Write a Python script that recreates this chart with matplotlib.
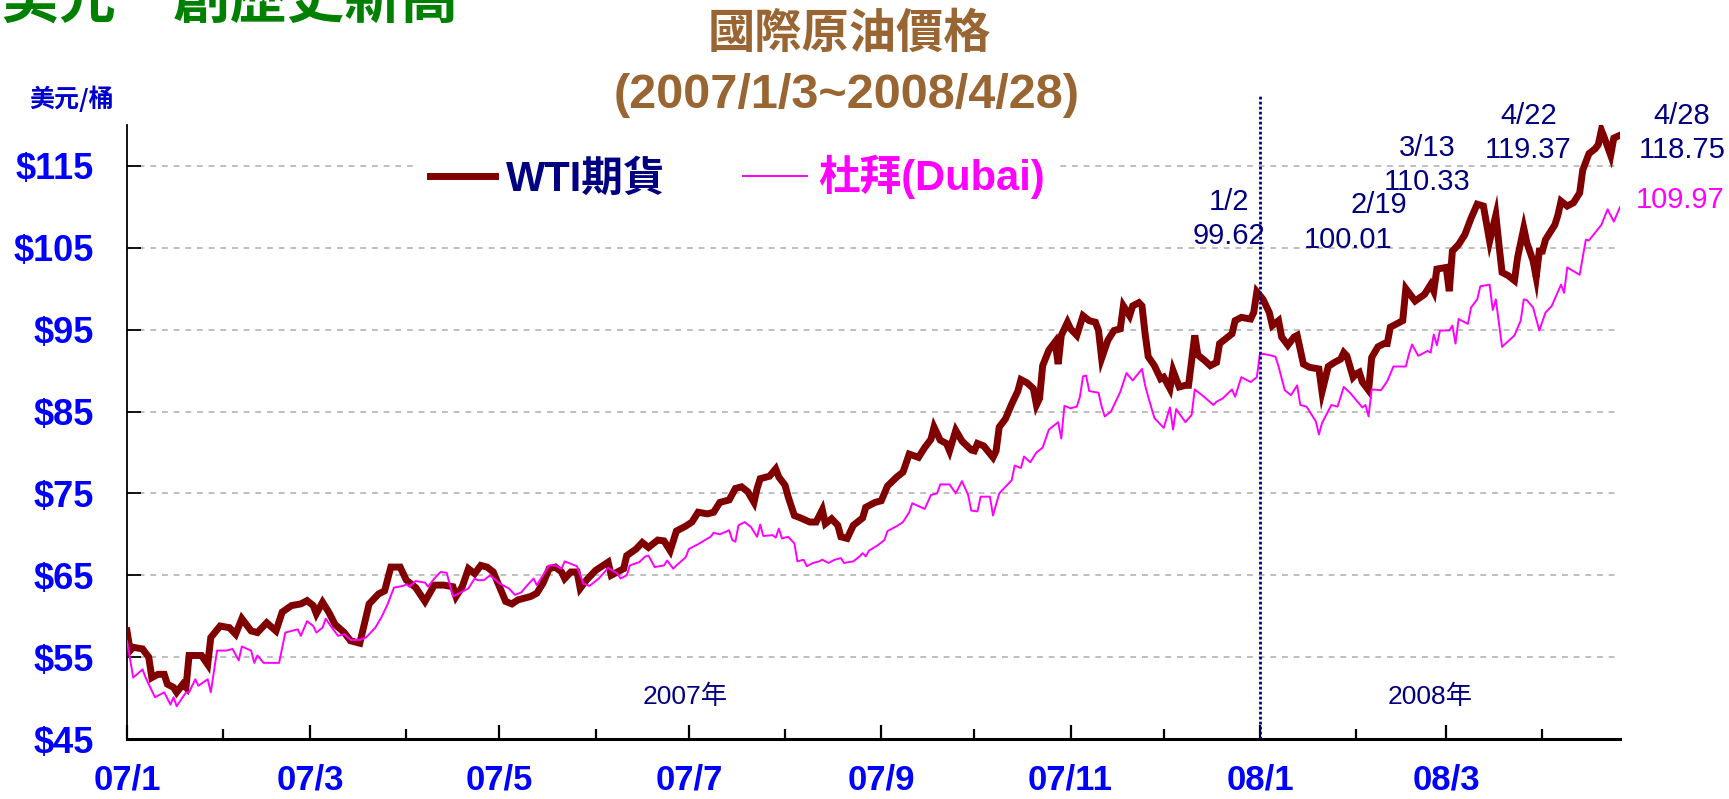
import matplotlib
matplotlib.use("Agg")
import matplotlib.pyplot as plt
from matplotlib import font_manager
import pandas as pd

# WTI futures, daily closes (USD / barrel)
wti_dates = [
    "2007-01-03", "2007-01-04", "2007-01-05", "2007-01-08", "2007-01-10", "2007-01-11", "2007-01-13", "2007-01-15", "2007-01-16",
    "2007-01-18", "2007-01-19", "2007-01-21", "2007-01-22", "2007-01-23", "2007-01-27", "2007-01-29", "2007-01-30",
    "2007-02-02", "2007-02-05", "2007-02-07", "2007-02-09", "2007-02-12", "2007-02-14", "2007-02-17", "2007-02-20", "2007-02-22",
    "2007-02-25", "2007-02-28",
    "2007-03-02", "2007-03-04", "2007-03-05", "2007-03-07", "2007-03-09", "2007-03-11", "2007-03-14", "2007-03-16", "2007-03-19",
    "2007-03-22", "2007-03-25", "2007-03-27", "2007-03-29",
    "2007-04-01", "2007-04-03", "2007-04-06", "2007-04-09", "2007-04-12", "2007-04-15", "2007-04-18", "2007-04-19", "2007-04-21",
    "2007-04-23", "2007-04-25", "2007-04-27", "2007-04-29",
    "2007-05-01", "2007-05-03", "2007-05-05", "2007-05-07", "2007-05-09", "2007-05-11", "2007-05-13", "2007-05-15", "2007-05-17",
    "2007-05-19", "2007-05-21", "2007-05-23", "2007-05-24", "2007-05-26", "2007-05-28", "2007-05-29", "2007-05-31",
    "2007-06-03", "2007-06-05", "2007-06-07", "2007-06-08", "2007-06-10", "2007-06-12", "2007-06-13", "2007-06-16", "2007-06-18",
    "2007-06-20", "2007-06-23", "2007-06-25", "2007-06-27", "2007-06-29",
    "2007-07-02", "2007-07-04", "2007-07-06", "2007-07-09", "2007-07-11", "2007-07-13", "2007-07-16", "2007-07-18", "2007-07-20",
    "2007-07-22", "2007-07-24", "2007-07-25", "2007-07-26", "2007-07-29", "2007-07-31",
    "2007-08-01", "2007-08-03", "2007-08-04", "2007-08-06", "2007-08-08", "2007-08-11", "2007-08-13", "2007-08-15", "2007-08-16",
    "2007-08-18", "2007-08-20", "2007-08-21", "2007-08-23", "2007-08-25", "2007-08-28", "2007-08-29",
    "2007-09-01", "2007-09-03", "2007-09-05", "2007-09-08", "2007-09-10", "2007-09-12", "2007-09-15", "2007-09-17", "2007-09-19",
    "2007-09-20", "2007-09-22", "2007-09-24", "2007-09-25", "2007-09-27", "2007-09-29",
    "2007-10-02", "2007-10-03", "2007-10-04", "2007-10-06", "2007-10-09", "2007-10-10", "2007-10-11", "2007-10-13", "2007-10-15",
    "2007-10-17", "2007-10-18", "2007-10-20", "2007-10-22", "2007-10-23", "2007-10-24", "2007-10-25", "2007-10-27", "2007-10-29",
    "2007-10-30", "2007-10-31",
    "2007-11-02", "2007-11-03", "2007-11-05", "2007-11-07", "2007-11-09", "2007-11-11", "2007-11-12", "2007-11-13", "2007-11-15",
    "2007-11-17", "2007-11-19", "2007-11-20", "2007-11-22", "2007-11-23", "2007-11-25", "2007-11-26", "2007-11-27", "2007-11-28",
    "2007-11-30",
    "2007-12-02", "2007-12-03", "2007-12-05", "2007-12-06", "2007-12-08", "2007-12-10", "2007-12-11", "2007-12-13", "2007-12-14",
    "2007-12-16", "2007-12-18", "2007-12-20", "2007-12-21", "2007-12-23", "2007-12-25", "2007-12-26", "2007-12-28", "2007-12-31",
    "2008-01-01", "2008-01-02", "2008-01-04", "2008-01-06", "2008-01-07", "2008-01-09", "2008-01-10", "2008-01-12", "2008-01-14",
    "2008-01-15", "2008-01-17", "2008-01-19", "2008-01-22", "2008-01-23", "2008-01-25", "2008-01-27", "2008-01-29", "2008-01-30",
    "2008-01-31",
    "2008-02-02", "2008-02-03", "2008-02-04", "2008-02-05", "2008-02-07", "2008-02-08", "2008-02-10", "2008-02-12", "2008-02-13",
    "2008-02-14", "2008-02-16", "2008-02-18", "2008-02-19", "2008-02-22", "2008-02-25", "2008-02-27", "2008-02-28", "2008-02-29",
    "2008-03-03", "2008-03-04", "2008-03-05", "2008-03-07", "2008-03-09", "2008-03-11", "2008-03-13", "2008-03-15", "2008-03-17",
    "2008-03-19", "2008-03-20", "2008-03-21", "2008-03-23", "2008-03-25", "2008-03-26", "2008-03-28", "2008-03-29", "2008-03-31",
    "2008-04-01", "2008-04-02", "2008-04-03", "2008-04-04", "2008-04-07", "2008-04-08", "2008-04-09", "2008-04-11", "2008-04-13",
    "2008-04-15", "2008-04-16", "2008-04-18", "2008-04-20", "2008-04-21", "2008-04-22", "2008-04-23", "2008-04-25", "2008-04-26",
    "2008-04-28",
]
wti_price = [
    58.2, 55.8, 56.2, 56.0, 55.0, 52.5, 52.9, 52.9, 51.7, 51.3, 50.7, 51.7, 51.3, 55.2, 55.2, 54.1, 57.4,
    58.8, 58.6, 57.8, 59.7, 58.2, 58.0, 59.2, 58.2, 60.5, 61.3, 61.5,
    61.9, 61.3, 60.3, 61.7, 60.5, 59.0, 58.0, 57.0, 56.7, 61.5, 62.7, 63.1, 66.0,
    66.0, 64.4, 63.5, 61.8, 63.8, 63.8, 63.6, 62.4, 63.6, 65.8, 65.2, 66.2, 66.0,
    65.4, 63.6, 61.8, 61.5, 62.0, 62.2, 62.4, 62.8, 64.0, 65.8, 66.0, 65.4, 64.6, 65.4, 65.4, 63.4, 64.4,
    65.6, 66.1, 66.6, 65.0, 65.4, 65.8, 67.4, 68.2, 69.0, 68.4, 69.3, 69.2, 68.0, 70.4,
    71.0, 71.5, 72.7, 72.5, 72.7, 73.9, 74.2, 75.6, 75.8, 75.2, 73.9, 75.6, 76.8, 77.1, 78.0,
    77.0, 76.0, 74.6, 72.3, 72.0, 71.5, 71.5, 73.0, 71.3, 71.9, 71.1, 69.7, 69.5, 71.1, 72.0, 73.3,
    73.9, 74.1, 75.9, 77.0, 77.6, 79.8, 79.4, 80.6, 81.6, 83.1, 81.5, 81.1, 80.2, 82.7, 81.4,
    80.3, 80.2, 81.1, 80.8, 79.4, 80.2, 83.1, 84.1, 85.9, 87.5, 88.9, 88.5, 87.8, 85.8, 86.6, 90.6, 92.5, 93.5, 90.8, 94.3,
    95.9, 95.1, 94.3, 96.7, 96.1, 95.9, 94.9, 91.5, 93.7, 94.9, 95.1, 97.9, 96.7, 97.9, 98.3, 97.9, 94.5, 91.7, 90.6,
    89.0, 89.2, 87.8, 90.0, 88.0, 88.2, 88.2, 94.3, 91.9, 91.3, 90.6, 91.0, 93.3, 93.9, 94.5, 96.1, 96.5, 96.3,
    97.1, 99.62, 98.7, 97.1, 95.5, 96.1, 94.1, 93.1, 94.1, 94.3, 90.8, 90.4, 90.2, 87.4, 90.5, 91.0, 91.4, 92.2, 91.8,
    89.2, 89.6, 89.8, 88.6, 87.6, 91.6, 92.9, 93.3, 93.3, 95.3, 95.7, 96.1, 100.01, 98.5, 99.3, 100.5, 99.7, 102.4,
    102.6, 99.7, 104.6, 105.4, 106.6, 108.6, 110.33, 110.1, 105.8, 109.0, 105.4, 102.0, 101.6, 101.0, 103.8, 107.4, 105.6, 103.4,
    101.4, 104.6, 104.6, 106.0, 107.8, 109.0, 110.7, 110.1, 110.5, 111.7, 114.5, 116.5, 117.1, 117.6, 119.37, 118.4, 116.3, 118.4,
    118.75,
]

# Dubai spot
dubai_dates = [
    "2007-01-03", "2007-01-05", "2007-01-08", "2007-01-09", "2007-01-12", "2007-01-15", "2007-01-17", "2007-01-18", "2007-01-19",
    "2007-01-22", "2007-01-23", "2007-01-25", "2007-01-26", "2007-01-29", "2007-01-30",
    "2007-02-01", "2007-02-04", "2007-02-06", "2007-02-08", "2007-02-09", "2007-02-12", "2007-02-13", "2007-02-14", "2007-02-16",
    "2007-02-21", "2007-02-23", "2007-02-27", "2007-02-28",
    "2007-03-02", "2007-03-04", "2007-03-05", "2007-03-07", "2007-03-08", "2007-03-10", "2007-03-12", "2007-03-14", "2007-03-16",
    "2007-03-19", "2007-03-21", "2007-03-24", "2007-03-26", "2007-03-28", "2007-03-30",
    "2007-04-02", "2007-04-03", "2007-04-04", "2007-04-06", "2007-04-09", "2007-04-10", "2007-04-12", "2007-04-14", "2007-04-16",
    "2007-04-18", "2007-04-21", "2007-04-23", "2007-04-25", "2007-04-26", "2007-04-28", "2007-04-30",
    "2007-05-03", "2007-05-06", "2007-05-08", "2007-05-10", "2007-05-12", "2007-05-14", "2007-05-15", "2007-05-19", "2007-05-21",
    "2007-05-23", "2007-05-24", "2007-05-28", "2007-05-30",
    "2007-06-01", "2007-06-04", "2007-06-07", "2007-06-10", "2007-06-11", "2007-06-13", "2007-06-14", "2007-06-17", "2007-06-19",
    "2007-06-20", "2007-06-22", "2007-06-25", "2007-06-26", "2007-06-28", "2007-06-29",
    "2007-07-02", "2007-07-03", "2007-07-06", "2007-07-10", "2007-07-11", "2007-07-13", "2007-07-16", "2007-07-17", "2007-07-18",
    "2007-07-19", "2007-07-21", "2007-07-23", "2007-07-25", "2007-07-26", "2007-07-27", "2007-07-30", "2007-07-31",
    "2007-08-01", "2007-08-02", "2007-08-04", "2007-08-06", "2007-08-07", "2007-08-09", "2007-08-10", "2007-08-12", "2007-08-14",
    "2007-08-15", "2007-08-17", "2007-08-19", "2007-08-21", "2007-08-22", "2007-08-25", "2007-08-27", "2007-08-28", "2007-08-29",
    "2007-08-30",
    "2007-09-02", "2007-09-04", "2007-09-05", "2007-09-08", "2007-09-10", "2007-09-12", "2007-09-13", "2007-09-17", "2007-09-19",
    "2007-09-21", "2007-09-22", "2007-09-25", "2007-09-27", "2007-09-29",
    "2007-10-01", "2007-10-02", "2007-10-04", "2007-10-05", "2007-10-08", "2007-10-09", "2007-10-11", "2007-10-15", "2007-10-16",
    "2007-10-18", "2007-10-19", "2007-10-21", "2007-10-23", "2007-10-25", "2007-10-27", "2007-10-30", "2007-10-31",
    "2007-11-01", "2007-11-03", "2007-11-05", "2007-11-06", "2007-11-07", "2007-11-08", "2007-11-09", "2007-11-12", "2007-11-13",
    "2007-11-14", "2007-11-16", "2007-11-19", "2007-11-21", "2007-11-23", "2007-11-26", "2007-11-27", "2007-11-28", "2007-11-30",
    "2007-12-03", "2007-12-05", "2007-12-06", "2007-12-07", "2007-12-10", "2007-12-12", "2007-12-13", "2007-12-16", "2007-12-19",
    "2007-12-20", "2007-12-22", "2007-12-25", "2007-12-26", "2007-12-28", "2007-12-31",
    "2008-01-02", "2008-01-03", "2008-01-06", "2008-01-08", "2008-01-09", "2008-01-11", "2008-01-13", "2008-01-15", "2008-01-16",
    "2008-01-18", "2008-01-19", "2008-01-21", "2008-01-22", "2008-01-23", "2008-01-26", "2008-01-28", "2008-01-30",
    "2008-02-01", "2008-02-03", "2008-02-05", "2008-02-06", "2008-02-07", "2008-02-08", "2008-02-11", "2008-02-13", "2008-02-15",
    "2008-02-19", "2008-02-20", "2008-02-21", "2008-02-23", "2008-02-26", "2008-02-27", "2008-02-28", "2008-02-29",
    "2008-03-01", "2008-03-04", "2008-03-05", "2008-03-06", "2008-03-07", "2008-03-10", "2008-03-11", "2008-03-13", "2008-03-14",
    "2008-03-17", "2008-03-18", "2008-03-19", "2008-03-21", "2008-03-25", "2008-03-27", "2008-03-28", "2008-03-29", "2008-03-31",
    "2008-04-02", "2008-04-04", "2008-04-06", "2008-04-09", "2008-04-10", "2008-04-11", "2008-04-15", "2008-04-17", "2008-04-18",
    "2008-04-22", "2008-04-24", "2008-04-26", "2008-04-28",
]
dubai_price = [
    57.0, 52.5, 53.5, 52.5, 50.1, 50.7, 49.2, 50.1, 49.0, 50.7, 50.7, 52.3, 51.5, 52.3, 50.7,
    55.8, 55.8, 56.0, 54.6, 56.3, 55.8, 54.3, 55.2, 54.3, 54.3, 58.0, 58.4, 57.6,
    59.4, 58.8, 58.0, 58.6, 59.7, 58.6, 57.6, 57.8, 57.1, 57.1, 57.4, 58.6, 59.9, 61.5, 63.5,
    63.7, 63.9, 63.6, 64.3, 64.1, 63.6, 64.6, 65.4, 65.3, 62.4, 63.0, 63.4, 64.6, 64.4, 64.4, 65.0,
    64.0, 63.4, 62.6, 62.9, 63.8, 64.6, 63.8, 66.2, 66.2, 65.8, 66.7, 66.1, 64.0,
    63.7, 64.6, 65.9, 65.2, 64.6, 65.0, 66.2, 66.6, 67.3, 67.4, 66.0, 66.2, 66.8, 65.8, 66.2,
    67.2, 68.2, 68.8, 69.7, 70.2, 70.0, 70.5, 69.3, 69.1, 71.1, 71.5, 70.9, 69.7, 71.2, 69.8, 69.9, 69.6,
    70.7, 69.5, 69.7, 68.9, 66.7, 66.9, 66.1, 66.5, 66.7, 66.9, 66.5, 66.9, 67.1, 66.5, 66.7, 67.3, 67.7, 67.3, 68.0,
    68.7, 69.3, 70.4, 71.0, 71.5, 72.7, 73.8, 73.1, 74.8, 75.0, 76.1, 76.1, 75.0, 76.5,
    74.8, 72.9, 72.8, 74.6, 74.6, 72.3, 75.0, 76.6, 78.4, 78.1, 79.5, 78.8, 80.0, 80.6, 82.8, 83.7, 81.7,
    85.7, 85.4, 85.6, 86.8, 89.3, 89.4, 87.5, 87.3, 85.6, 84.4, 85.0, 87.4, 89.7, 88.8, 90.2, 88.2, 86.8, 84.2,
    83.0, 85.5, 82.8, 85.3, 83.7, 84.6, 87.7, 86.8, 85.8, 86.2, 86.6, 87.7, 86.8, 89.2, 88.6,
    89.2, 92.1, 91.9, 91.7, 90.5, 87.6, 87.0, 88.2, 85.8, 85.6, 85.0, 83.8, 82.2, 83.6, 85.8, 85.6, 88.0,
    87.3, 86.4, 85.5, 85.8, 84.4, 87.7, 87.6, 88.7, 90.5, 90.5, 92.0, 93.2, 91.8, 92.4, 92.2, 94.4, 93.1,
    94.9, 94.9, 95.5, 93.3, 96.3, 95.7, 97.7, 98.7, 100.3, 100.5, 97.4, 98.7, 92.9, 94.3, 96.1, 98.7, 98.6, 97.7,
    94.9, 97.1, 97.9, 100.5, 99.5, 102.6, 101.7, 106.0, 105.9, 107.8, 109.7, 108.2, 109.97,
]

# labelled WTI points
note_dates = ["2008-01-02", "2008-02-19", "2008-03-13", "2008-04-22", "2008-04-28"]
note_prices = [99.62, 100.01, 110.33, 119.37, 118.75]
dubai_last_date = "2008-04-28"
dubai_last = 109.97

y_ticks = [45, 55, 65, 75, 85, 95, 105, 115]
year_labels = ["2007年", "2008年"]
year_split = "2008-01-03"

NAVY = "#000080"
BLUE = "#0000FF"
WTI_C = "#800000"
DUBAI_C = "#FF00FF"

installed = {f.name for f in font_manager.fontManager.ttflist}
NARROW = "Liberation Sans Narrow" in installed
latin_n = "Liberation Sans Narrow" if NARROW else "Liberation Sans"
cjk = "Noto Sans CJK TC"
plt.rcParams["font.family"] = ["Liberation Sans", cjk, "DejaVu Sans"]

fig = plt.figure(figsize=(17.29, 7.99), dpi=100)
ax = fig.add_axes([127 / 1729, 60 / 799, 1493 / 1729, 614 / 799])

wti_line, = ax.plot(pd.to_datetime(wti_dates), wti_price, color=WTI_C, lw=5.0,
                    solid_joinstyle="miter", zorder=3)
dubai_line, = ax.plot(pd.to_datetime(dubai_dates), dubai_price, color=DUBAI_C, lw=1.4, zorder=4)

ax.set_xlim(pd.Timestamp("2007-01-03"), pd.Timestamp("2008-04-28"))
ax.set_ylim(45, 120)

# month ticks fall on the 3rd (axis starts 2007/1/3), labels every 2 months
months = pd.date_range("2007-01-01", "2008-04-01", freq="MS") + pd.Timedelta(days=2)
major = months[::2]
ax.set_xticks(major)
ax.set_xticklabels([f"{d:%y}/{d.month}" for d in major])
ax.set_xticks(months[1::2], minor=True)

ax.set_yticks(y_ticks)
ax.set_yticklabels([f"\\${v}" for v in y_ticks])

xsize, ysize = (29, 29) if NARROW else (25, 26)
ax.tick_params(axis="x", which="major", direction="in", length=10, width=1.6, pad=18,
               labelsize=xsize, labelcolor=BLUE)
ax.tick_params(axis="x", which="minor", direction="in", length=7, width=1.6)
ax.tick_params(axis="y", direction="in", length=10, width=1.3, pad=24,
               labelsize=ysize, labelcolor=BLUE)
for lbl in ax.get_xticklabels() + ax.get_yticklabels():
    lbl.set_fontweight("bold")
    lbl.set_family([latin_n, cjk])

ax.yaxis.grid(True, color="#BEBEBE", linestyle=(0, (3, 3)), linewidth=1.4)
ax.set_axisbelow(True)
for s in ["top", "right"]:
    ax.spines[s].set_visible(False)
ax.spines["left"].set_linewidth(1.3)
ax.spines["bottom"].set_linewidth(2.2)

# dotted separator at the new year, poking above the plot
ax.axvline(pd.Timestamp(year_split), ymin=0, ymax=1.05, color=NAVY, lw=2.0,
           linestyle=(0, (1, 0.8)), clip_on=False, zorder=5)

ax.text(0.374, 0.068, year_labels[0], transform=ax.transAxes, ha="center", va="center",
        fontsize=19, color=NAVY, family=[latin_n, cjk])
ax.text(0.873, 0.068, year_labels[1], transform=ax.transAxes, ha="center", va="center",
        fontsize=19, color=NAVY, family=[latin_n, cjk])

leg = ax.legend([wti_line, dubai_line], ["WTI期貨", "杜拜(Dubai)"], loc="center",
                bbox_to_anchor=(0.409, 0.915), ncol=2, frameon=True, fancybox=False,
                edgecolor="none", facecolor="white", framealpha=1,
                prop={"weight": "bold", "size": 30, "family": ["Liberation Sans", cjk]},
                handlelength=1.55, handletextpad=0.27, columnspacing=1.85, borderpad=0.35)
for t, c in zip(leg.get_texts(), [NAVY, DUBAI_C]):
    t.set_color(c)

# callouts: text centre offset from the point, in pixels
offsets = [(-28, 73), None, (-50, 39), (-73, -3), (62, 2)]
for d, p, off in zip(note_dates, note_prices, offsets):
    ts = pd.Timestamp(d)
    if off is None:
        ax.annotate(f"{ts.month}/{ts.day}", (ts, p), xytext=(-27, 84), textcoords="offset pixels",
                    ha="center", va="center", fontsize=21, color=NAVY, annotation_clip=False)
        ax.annotate(f"{p:.2f}", (ts, p), xytext=(-58, 49), textcoords="offset pixels",
                    ha="center", va="center", fontsize=21, color=NAVY, annotation_clip=False)
        continue
    ax.annotate(f"{ts.month}/{ts.day}\n{p:.2f}", (ts, p), xytext=off, textcoords="offset pixels",
                ha="center", va="center", fontsize=21, color=NAVY, linespacing=1.25,
                annotation_clip=False)
ax.annotate(f"{dubai_last:.2f}", (pd.Timestamp(dubai_last_date), dubai_last), xytext=(60, 7),
            textcoords="offset pixels", ha="center", va="center", fontsize=21, color=DUBAI_C,
            annotation_clip=False)

# titles / slide residue
fig.text(849 / 1729, 1 - 34 / 799, "國際原油價格", ha="center", va="center", fontsize=34,
         fontweight="bold", color="#996633", family=cjk)
fig.text(847 / 1729, 1 - 96 / 799, "(2007/1/3~2008/4/28)", ha="center", va="center", fontsize=35,
         fontweight="bold", color="#996633", family="Liberation Sans")
fig.text(72 / 1729, 1 - 99 / 799, "美元/桶", ha="center", va="center", fontsize=18,
         fontweight="bold", color="#0000CC", family=cjk)
fig.text(2 / 1729, 1 - 19 / 799, "美元\u3000創歷史新高", ha="left", va="baseline", fontsize=41,
         fontweight="bold", color="#008000", family=cjk)

fig.savefig("out.png", dpi=100)
